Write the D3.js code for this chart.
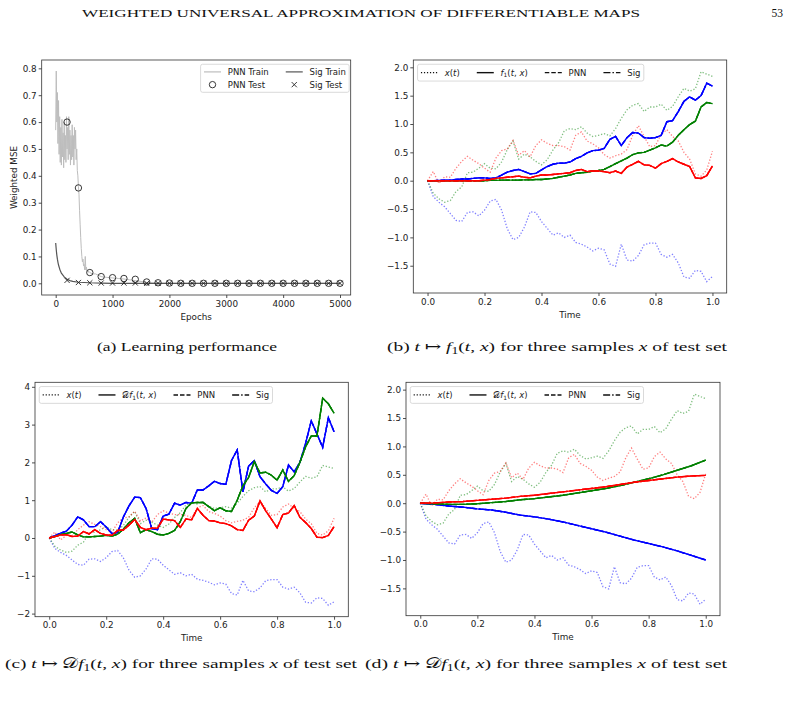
<!DOCTYPE html>
<meta charset="utf-8">
<style>
  body { margin: 0; background: #fff; }
  svg { display: block; }
  text { font-family: "DejaVu Sans", sans-serif; }
  .serif { font-family: "Liberation Serif", "DejaVu Serif", serif; fill: #111; }
</style>
<body>
<script src="https://cdn.jsdelivr.net/npm/d3@7"></script>
<script>
// ---- data: panel (a) learning curves ----
var pnnTrainEpochs = [0, 10, 20, 30, 40, 50, 60, 70, 80, 90, 100, 110, 120, 130, 140, 150, 160, 170, 180, 190,
  200, 210, 220, 230, 240, 250, 260, 270, 280, 290, 300, 310, 320, 330, 340, 350, 360, 370, 380, 390,
  400, 410, 420, 430, 440, 450, 460, 470, 480, 490, 500, 510, 520, 530, 540, 550, 560, 570, 580,
  600, 650, 700, 750, 800, 900, 1000, 1100, 1200, 1300, 1400, 1500, 1600, 1700, 1800, 5000];
var pnnTrainLoss = [0.57, 0.79, 0.60, 0.71, 0.52, 0.68, 0.48, 0.62, 0.45, 0.58, 0.44, 0.61, 0.47, 0.56, 0.43, 0.60, 0.46, 0.55, 0.45, 0.62,
  0.50, 0.58, 0.46, 0.62, 0.48, 0.57, 0.44, 0.55, 0.46, 0.59, 0.47, 0.55, 0.44, 0.58, 0.50, 0.57, 0.46, 0.50, 0.42, 0.40,
  0.36, 0.33, 0.27, 0.22, 0.17, 0.13, 0.10, 0.08, 0.09, 0.065, 0.07, 0.05, 0.10, 0.05, 0.06, 0.045, 0.05, 0.04, 0.045,
  0.04, 0.035, 0.035, 0.03, 0.025, 0.022, 0.02, 0.018, 0.016, 0.013, 0.01, 0.007, 0.003, 0.001, 0, 0];
var sigTrainEpochs = [0, 10, 20, 30, 40, 50, 75, 100, 150, 200, 250, 300, 400, 600, 800, 1000, 5000];
var sigTrainLoss = [0.15, 0.125, 0.105, 0.09, 0.078, 0.068, 0.05, 0.038, 0.024, 0.015, 0.01, 0.007, 0.004, 0.002, 0.001, 0, 0];
var testEpochs = [200, 400, 600, 800, 1000, 1200, 1400, 1600, 1800, 2000, 2200, 2400, 2600, 2800, 3000,
  3200, 3400, 3600, 3800, 4000, 4200, 4400, 4600, 4800, 5000];
var pnnTest = [0.60, 0.355, 0.04, 0.025, 0.021, 0.018, 0.015, 0.005, 0.002, 0.001, 0, 0, 0, 0, 0, 0, 0, 0, 0, 0, 0, 0, 0, 0, 0];
var sigTest = [0.011, 0.003, 0.002, 0.001, 0.001, 0.001, 0.001, 0, 0, 0, 0, 0, 0, 0, 0, 0, 0, 0, 0, 0, 0, 0, 0, 0, 0];

// ---- data: sample paths x(t), three test samples (blue, green, red) ----
var time = [0, 0.02, 0.04, 0.06, 0.08, 0.1, 0.12, 0.14, 0.16, 0.18, 0.2, 0.22, 0.24, 0.26, 0.28, 0.3, 0.32, 0.34, 0.36, 0.38,
  0.4, 0.42, 0.44, 0.46, 0.48, 0.5, 0.52, 0.54, 0.56, 0.58, 0.6, 0.62, 0.64, 0.66, 0.68, 0.7, 0.72, 0.74, 0.76, 0.78,
  0.8, 0.82, 0.84, 0.86, 0.88, 0.9, 0.92, 0.94, 0.96, 0.98, 1.0];
var xBlue = [0, -0.28, -0.38, -0.46, -0.58, -0.70, -0.72, -0.56, -0.55, -0.62, -0.52, -0.36, -0.33, -0.52, -0.85, -1.04, -1.00, -0.82, -0.55, -0.56,
  -0.72, -0.84, -0.96, -0.92, -1.00, -0.96, -1.09, -1.12, -1.17, -1.24, -1.19, -1.22, -1.47, -1.51, -1.12, -1.40, -1.42, -1.32, -1.13, -1.10,
  -1.10, -1.30, -1.35, -1.30, -1.45, -1.70, -1.72, -1.58, -1.60, -1.78, -1.69];
var xGreen = [0, -0.22, -0.32, -0.38, -0.35, -0.19, -0.11, 0.14, 0.15, 0.22, 0.30, 0.22, 0.21, 0.33, 0.55, 0.70, 0.38, 0.47, 0.42, 0.34,
  0.28, 0.37, 0.54, 0.67, 0.88, 0.92, 0.90, 0.95, 0.84, 0.78, 0.80, 0.83, 0.79, 0.92, 1.10, 1.25, 1.33, 1.36, 1.22, 1.30,
  1.30, 1.35, 1.24, 1.31, 1.48, 1.63, 1.58, 1.62, 1.92, 1.88, 1.84];
var xRed = [0, 0.16, -0.05, 0.07, 0.06, 0.22, 0.34, 0.43, 0.36, 0.30, 0.22, 0.15, 0.40, 0.53, 0.56, 0.71, 0.45, 0.53, 0.42, 0.62,
  0.72, 0.66, 0.62, 0.62, 0.60, 0.54, 0.80, 0.86, 0.70, 0.65, 0.58, 0.46, 0.40, 0.44, 0.47, 0.55, 0.80, 0.97, 0.78, 0.60,
  0.62, 0.82, 0.90, 0.78, 0.70, 0.50, 0.38, 0.12, 0.08, 0.19, 0.52];

// ---- data: (b) f1(t, x) ----
var fBlue = [0, 0, 0.005, 0.01, 0.01, 0.02, 0.03, 0.03, 0.04, 0.05, 0.05, 0.04, 0.05, 0.10, 0.15, 0.18, 0.20, 0.16, 0.12, 0.13,
  0.19, 0.25, 0.29, 0.31, 0.31, 0.33, 0.39, 0.43, 0.49, 0.53, 0.54, 0.57, 0.73, 0.78, 0.62, 0.76, 0.85, 0.84, 0.76, 0.75,
  0.76, 0.80, 1.04, 1.06, 1.22, 1.40, 1.48, 1.42, 1.50, 1.72, 1.67];
var fGreen = [0, 0, 0, 0, 0, 0, 0, 0, 0, 0, 0, 0.005, 0.005, 0.01, 0.01, 0.01, 0.01, 0.015, 0.015, 0.02,
  0.02, 0.03, 0.04, 0.06, 0.08, 0.10, 0.13, 0.14, 0.15, 0.17, 0.18, 0.20, 0.25, 0.30, 0.35, 0.40, 0.46, 0.49, 0.50, 0.54,
  0.58, 0.63, 0.61, 0.68, 0.80, 0.90, 0.99, 1.05, 1.30, 1.38, 1.36];
var fRed = [0, 0, 0, 0, 0, 0, 0, 0, 0, 0, 0.01, 0.02, 0.04, 0.05, 0.06, 0.07, 0.08, 0.06, 0.05, 0.08,
  0.10, 0.10, 0.11, 0.12, 0.13, 0.14, 0.18, 0.20, 0.16, 0.17, 0.17, 0.16, 0.14, 0.17, 0.13, 0.24, 0.29, 0.34, 0.28, 0.27,
  0.22, 0.30, 0.34, 0.39, 0.33, 0.29, 0.25, 0.05, 0.04, 0.09, 0.26];

// ---- data: (c) Df1(t, x) ----
var dfBlue = [0, 0.06, 0.13, 0.18, 0.34, 0.56, 0.48, 0.30, 0.30, 0.43, 0.29, 0.12, 0.14, 0.55, 0.85, 1.08, 1.07, 0.78, 0.25, 0.22,
  0.58, 0.63, 0.92, 0.87, 0.94, 0.92, 1.27, 1.27, 1.38, 1.50, 1.44, 1.42, 2.05, 2.33, 1.22, 1.90, 2.05, 1.62, 1.43, 1.26,
  1.18, 1.36, 1.93, 1.75, 2.00, 2.50, 3.10, 2.75, 2.40, 3.18, 2.81];
var dfGreen = [0, 0.04, 0.09, 0.12, 0.16, 0.08, 0.03, 0.03, 0.04, 0.05, 0.07, 0.05, 0.10, 0.23, 0.40, 0.52, 0.14, 0.22, 0.17, 0.10,
  0.08, 0.12, 0.20, 0.43, 0.78, 0.93, 0.94, 0.94, 0.83, 0.72, 0.80, 0.72, 0.70, 1.00, 1.38, 1.60, 2.02, 1.72, 1.74, 1.66,
  1.53, 1.80, 1.50, 1.65, 2.00, 2.41, 2.70, 2.70, 3.70, 3.55, 3.30];
var dfRed = [0, 0.04, 0.08, 0.09, 0.04, 0.05, 0.17, 0.11, 0.22, 0.12, 0.08, 0.07, 0.20, 0.21, 0.34, 0.49, 0.28, 0.22, 0.26, 0.26,
  0.50, 0.48, 0.46, 0.28, 0.50, 0.48, 0.78, 0.60, 0.46, 0.45, 0.40, 0.38, 0.32, 0.22, 0.20, 0.47, 0.58, 0.98, 0.72, 0.50,
  0.27, 0.62, 0.66, 0.86, 0.55, 0.41, 0.25, 0.02, 0.01, 0.07, 0.30];

// ---- data: (d) weak derivative, smooth curves on a coarser grid ----
var timeCoarse = [0, 0.05, 0.1, 0.15, 0.2, 0.25, 0.3, 0.35, 0.4, 0.45, 0.5, 0.55, 0.6, 0.65, 0.7, 0.75, 0.8, 0.85, 0.9, 0.95, 1.0];
var wdBlue = [0, -0.02, -0.05, -0.07, -0.10, -0.12, -0.16, -0.21, -0.24, -0.28, -0.33, -0.39, -0.45, -0.51, -0.58, -0.65, -0.71, -0.77, -0.84, -0.92, -1.0];
var wdGreen = [0, -0.01, -0.02, -0.02, -0.01, 0.01, 0.03, 0.06, 0.08, 0.11, 0.14, 0.18, 0.22, 0.26, 0.31, 0.37, 0.43, 0.50, 0.58, 0.66, 0.76];
var wdRed = [0, 0.005, 0.02, 0.03, 0.05, 0.07, 0.09, 0.12, 0.14, 0.17, 0.20, 0.23, 0.26, 0.29, 0.33, 0.37, 0.40, 0.43, 0.46, 0.48, 0.49];

var yTicksA = [0, 0.1, 0.2, 0.3, 0.4, 0.5, 0.6, 0.7, 0.8];
var xTicksA = [0, 1000, 2000, 3000, 4000, 5000];
var xTicksT = [0, 0.2, 0.4, 0.6, 0.8, 1.0];
var yTicksBD = [-1.5, -1.0, -0.5, 0.0, 0.5, 1.0, 1.5, 2.0];
var yTicksC = [-2, -1, 0, 1, 2, 3, 4];
var colors = ["blue", "green", "red"];

var svg = d3.select("body").append("svg").attr("width", 795).attr("height", 717);

var FS = 8.8;
function panel(p) {
  var g = svg.append("g");
  var x = d3.scaleLinear().domain(p.xd).range([p.left, p.left + p.w]);
  var y = d3.scaleLinear().domain(p.yd).range([p.top + p.h, p.top]);
  var ax = g.append("g").attr("transform", "translate(0," + (p.top + p.h) + ")")
    .call(d3.axisBottom(x).tickValues(p.xt).tickFormat(p.xf).tickSize(3).tickPadding(2.5));
  var ay = g.append("g").attr("transform", "translate(" + p.left + ",0)")
    .call(d3.axisLeft(y).tickValues(p.yt).tickFormat(p.yf).tickSize(3).tickPadding(2));
  [ax, ay].forEach(function(a) {
    a.attr("font-size", FS).attr("font-family", "DejaVu Sans");
    a.select(".domain").remove();
    a.selectAll("line").attr("stroke", "#222").attr("stroke-width", 0.8);
    a.selectAll("text").attr("fill", "#222");
  });
  var lines = g.append("g");
  g.append("text").attr("x", p.left + p.w / 2).attr("y", p.top + p.h + 24.5)
    .attr("text-anchor", "middle").attr("font-size", FS).attr("fill", "#222").text(p.xlabel);
  return { g: g, lines: lines, x: x, y: y, p: p };
}
function frame(P) {
  P.g.append("rect").attr("x", P.p.left).attr("y", P.p.top).attr("width", P.p.w).attr("height", P.p.h)
    .attr("fill", "none").attr("stroke", "#333").attr("stroke-width", 0.8);
}

function rich(t, parts) {
  var shift = 0;
  parts.forEach(function(q) {
    var s = t.append("tspan").text(q[0]);
    var want = q[1] === "sub" ? 0.28 : 0;
    if (want !== shift) { s.attr("dy", (want - shift) + "em"); shift = want; }
    if (q[1] === "i") s.attr("font-style", "italic");
    if (q[1] === "sub") { s.attr("font-size", "70%"); shift = 0.28 * 0.7; s.attr("dy", "0.28em"); }
  });
}

function legend(P, items, ncol, side, rowH, edge) {
  var fs = 8.5, bp = 0.4 * fs, hl = 2 * fs, htp = 0.8 * fs, cs = 2 * fs, ls = 0.5 * fs;
  var g = P.g.append("g");
  var box = g.append("rect");
  var nrow = Math.ceil(items.length / ncol);
  var texts = items.map(function(it) {
    var t = g.append("text").attr("font-size", fs).attr("fill", "#222");
    rich(t, it.label);
    return t;
  });
  var widths = texts.map(function(t) { return t.node().getComputedTextLength(); });
  var colW = d3.range(ncol).map(function(c) { return d3.max(widths.slice(c * nrow, (c + 1) * nrow)); });
  var bw = 2 * bp + d3.sum(colW) + ncol * (hl + htp) + (ncol - 1) * cs;
  var bh = 2 * bp + nrow * rowH + (nrow - 1) * ls;
  var bx = side === "right" ? P.p.left + P.p.w - edge - bw : P.p.left + edge;
  var by = P.p.top + 0.5 * fs;
  box.attr("x", bx).attr("y", by).attr("width", bw).attr("height", bh).attr("rx", 2)
    .attr("fill", "#fff").attr("fill-opacity", 0.8).attr("stroke", "#d0d0d0").attr("stroke-width", 0.8);
  var cx = bx + bp;
  for (var c = 0; c < ncol; c++) {
    for (var r = 0; r < nrow; r++) {
      var i = c * nrow + r;
      if (i >= items.length) continue;
      var yc = by + bp + r * (rowH + ls) + rowH / 2;
      items[i].handle(g, cx, cx + hl, yc);
      texts[i].attr("x", cx + hl + htp).attr("y", yc + 0.36 * fs);
    }
    cx += hl + htp + colW[c] + cs;
  }
}

function hLine(dash, color, width) {
  return function(g, x1, x2, y) {
    g.append("line").attr("x1", x1).attr("x2", x2).attr("y1", y).attr("y2", y)
      .attr("stroke", color).attr("stroke-width", width).attr("stroke-dasharray", dash);
  };
}

// ---- panel (a) ----
var A = panel({ left: 41.7, top: 60, w: 309, h: 235, xd: [-246, 5188], yd: [-0.0435, 0.831],
  xt: xTicksA, yt: yTicksA, xf: d3.format("d"), yf: d3.format(".1f"), xlabel: "Epochs" });
A.g.append("text").attr("transform", "translate(16.5," + (60 + 235 / 2) + ") rotate(-90)")
  .attr("text-anchor", "middle").attr("font-size", FS).attr("fill", "#222").text("Weighted MSE");
var lineA = d3.line().x(function(d) { return A.x(d[0]); }).y(function(d) { return A.y(d[1]); });
A.lines.append("path").datum(d3.zip(pnnTrainEpochs, pnnTrainLoss)).attr("d", lineA)
  .attr("fill", "none").attr("stroke", "#bdbdbd").attr("stroke-width", 1);
A.lines.append("path").datum(d3.zip(sigTrainEpochs, sigTrainLoss)).attr("d", lineA)
  .attr("fill", "none").attr("stroke", "#555").attr("stroke-width", 1.2);
function crossAt(g, cx, cy) {
  g.append("path").attr("d", "M" + (cx - 2.6) + "," + (cy - 2.6) + "L" + (cx + 2.6) + "," + (cy + 2.6) +
    "M" + (cx - 2.6) + "," + (cy + 2.6) + "L" + (cx + 2.6) + "," + (cy - 2.6))
    .attr("stroke", "#222").attr("stroke-width", 0.9).attr("fill", "none");
}
A.lines.selectAll("circle.pnn").data(d3.zip(testEpochs, pnnTest)).join("circle")
  .attr("cx", function(d) { return A.x(d[0]); }).attr("cy", function(d) { return A.y(d[1]); })
  .attr("r", 3.2).attr("fill", "none").attr("stroke", "#222").attr("stroke-width", 0.9);
d3.zip(testEpochs, sigTest).forEach(function(d) { crossAt(A.lines, A.x(d[0]), A.y(d[1])); });
frame(A);
legend(A, [
  { label: [["PNN Train", ""]], handle: hLine(null, "#bdbdbd", 1.2) },
  { label: [["PNN Test", ""]], handle: function(g, x1, x2, y) {
      g.append("circle").attr("cx", (x1 + x2) / 2).attr("cy", y).attr("r", 3.2)
        .attr("fill", "none").attr("stroke", "#222").attr("stroke-width", 0.9); } },
  { label: [["Sig Train", ""]], handle: hLine(null, "#555", 1.2) },
  { label: [["Sig Test", ""]], handle: function(g, x1, x2, y) { crossAt(g, (x1 + x2) / 2, y); } }
], 2, "right", 8.5, 1.5);

// ---- panels (b), (c), (d) ----
function timePanel(p, ts, curves, dLabel) {
  var P = panel(p);
  var line = d3.line().x(function(d) { return P.x(d[0]); }).y(function(d) { return P.y(d[1]); });
  [xBlue, xGreen, xRed].forEach(function(s, k) {
    P.lines.append("path").datum(d3.zip(time, s)).attr("d", line).attr("fill", "none")
      .attr("stroke", colors[k]).attr("stroke-opacity", 0.5).attr("stroke-width", 1.3)
      .attr("stroke-dasharray", "1.3,1.8");
  });
  curves.forEach(function(s, k) {
    var data = d3.zip(ts, s);
    [null, "4.5,2", "7,2,1.5,2"].forEach(function(dash) {
      P.lines.append("path").datum(data).attr("d", line).attr("fill", "none")
        .attr("stroke", colors[k]).attr("stroke-width", 1.4).attr("stroke-dasharray", dash);
    });
  });
  frame(P);
  legend(P, [
    { label: [["x", "i"], ["(", ""], ["t", "i"], [")", ""]], handle: hLine("1.2,1.8", "#111", 1.2) },
    { label: dLabel, handle: hLine(null, "#111", 1.4) },
    { label: [["PNN", ""]], handle: hLine("4.5,2", "#111", 1.4) },
    { label: [["Sig", ""]], handle: hLine("7,2,1.5,2", "#111", 1.4) }
  ], 4, "left", 10, 4.25);
  return P;
}
var fLab = [["f", "i"], ["1", "sub"], ["(", ""], ["t", "i"], [", ", ""], ["x", "i"], [")", ""]];
timePanel({ left: 413.3, top: 60, w: 313.4, h: 233, xd: [-0.05, 1.05], yd: [-1.981, 2.129],
  xt: xTicksT, yt: yTicksBD, xf: d3.format(".1f"), yf: d3.format(".1f"), xlabel: "Time" },
  time, [fBlue, fGreen, fRed], fLab);
timePanel({ left: 35, top: 382.3, w: 313.3, h: 234.4, xd: [-0.05, 1.05], yd: [-2.082, 4.119],
  xt: xTicksT, yt: yTicksC, xf: d3.format(".1f"), yf: d3.format("d"), xlabel: "Time" },
  time, [dfBlue, dfGreen, dfRed], [["\uD835\uDC9F", ""]].concat(fLab));
timePanel({ left: 406, top: 382.3, w: 314, h: 233.4, xd: [-0.05, 1.05], yd: [-1.981, 2.129],
  xt: xTicksT, yt: yTicksBD, xf: d3.format(".1f"), yf: d3.format(".1f"), xlabel: "Time" },
  timeCoarse, [wdBlue, wdGreen, wdRed], [["\uD835\uDC9F", ""]].concat(fLab));

// ---- page text: running head and sub-captions ----
svg.append("text").attr("class", "serif").attr("x", 82).attr("y", 16.5).attr("font-size", 10.5)
  .attr("textLength", 558).attr("lengthAdjust", "spacingAndGlyphs")
  .text("WEIGHTED UNIVERSAL APPROXIMATION OF DIFFERENTIABLE MAPS");
svg.append("text").attr("class", "serif").attr("x", 783).attr("y", 16.5).attr("font-size", 11.5)
  .attr("text-anchor", "end").text("53");

function caption(x, y, len, parts) {
  var t = svg.append("text").attr("class", "serif").attr("x", x).attr("y", y).attr("font-size", 13.5)
    .attr("textLength", len).attr("lengthAdjust", "spacingAndGlyphs");
  rich(t, parts);
}
function capParts(tag, op) {
  return [["(" + tag + ") ", ""], ["t", "i"], [" \u21A6 ", ""]].concat(op)
    .concat([["f", "i"], ["1", "sub"], ["(", ""], ["t", "i"], [", ", ""], ["x", "i"], [")", ""],
      [" for three samples ", ""], ["x", "i"], [" of test set", ""]]);
}
caption(97, 351, 180, [["(a) Learning performance", ""]]);
caption(387, 351, 340, capParts("b", []));
caption(5, 668, 352, capParts("c", [["\uD835\uDC9F", ""]]));
caption(365, 668, 362, capParts("d", [["\uD835\uDC9F", ""]]));
</script>
</body>
